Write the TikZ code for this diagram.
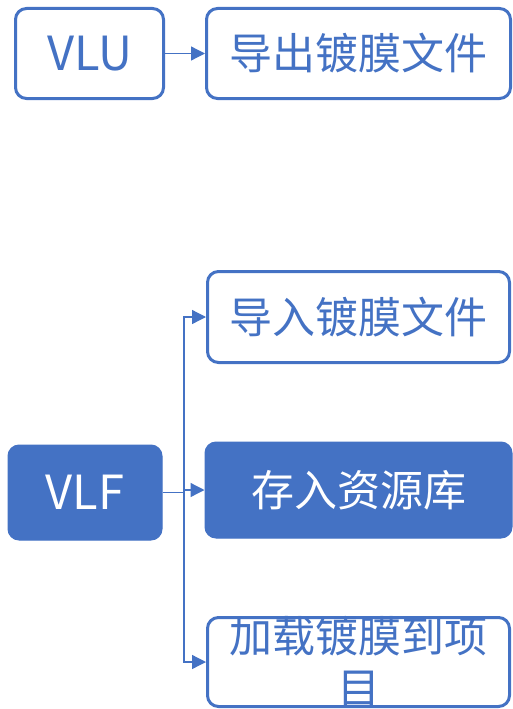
\documentclass[tikz,border=0pt]{standalone}
\usepackage{fontspec}
\newfontfamily\cjk{Noto Sans CJK SC}
\usetikzlibrary{arrows.meta}
\definecolor{ppblue}{HTML}{4472C4}
\tikzset{
  box/.style={draw=ppblue, line width=3pt, rounded corners=11pt, fill=white, inner sep=0pt},
  fbox/.style={draw=ppblue, fill=ppblue, line width=1pt, rounded corners=11pt, inner sep=0pt},
  txt/.style={text=ppblue, font=\cjk\fontsize{43}{52}\selectfont, inner sep=0pt},
  wtxt/.style={text=white, font=\cjk\fontsize{43}{52}\selectfont, inner sep=0pt},
  conn/.style={draw=ppblue, line width=1.3pt, -{Triangle[length=14pt,width=14pt]}},
  plain/.style={draw=ppblue, line width=1.3pt}
}
\begin{document}
\begin{tikzpicture}[x=1pt,y=-1pt]
\useasboundingbox (0,0) rectangle (513,709);
\clip (0,0) rectangle (513,709);
% boxes
\node[box, minimum width=148pt, minimum height=90pt] (vlu) at (89.5,53.5) {};
\node[txt, font=\cjk\fontsize{47}{52}\selectfont] (vlut) at (vlu.center) {VLU};
\node[box, minimum width=304pt, minimum height=90pt] (out) at (358.5,53.5) {};
\node[txt] (outt) at (out.center) {导出镀膜文件};

\node[box, minimum width=302pt, minimum height=91pt] (imp) at (358.5,317) {};
\node[txt] (impt) at (imp.center) {导入镀膜文件};

\node[fbox, minimum width=154pt, minimum height=95pt] (vlf) at (85,492.5) {};
\node[wtxt, font=\cjk\fontsize{47}{52}\selectfont] (vlft) at (vlf.center) {VLF};

\node[fbox, minimum width=307pt, minimum height=96pt] (store) at (358.5,490) {};
\node[wtxt] (storet) at (store.center) {存入资源库};

\node[box, minimum width=302pt, minimum height=89pt] (load) at (358.5,662) {};
\node[txt, align=center, anchor=north] (loadt) at (358.5,616) {加载镀膜到项\\目};

% connectors
\draw[conn] (vlu.east) -- (out.west);
\coordinate (j) at (184,492.5);
\draw[plain] (vlf.east) -- (j);
\draw[conn] (j) |- (imp.west);
\draw[conn] (j) |- (store.west);
\draw[conn] (j) |- (load.west);
\end{tikzpicture}
\end{document}
